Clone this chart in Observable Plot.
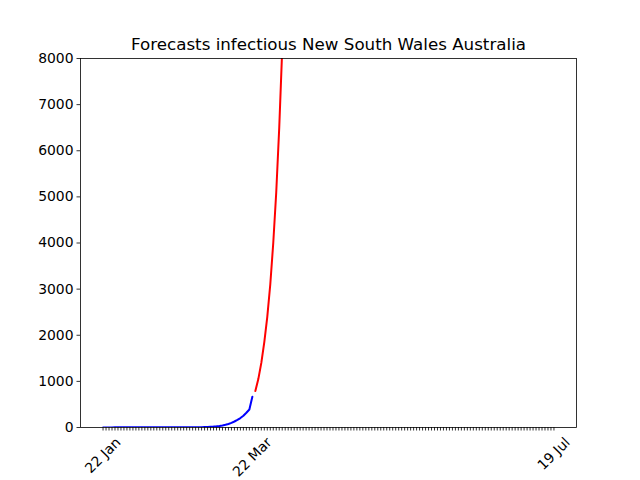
<!DOCTYPE html>
<html><head><meta charset="utf-8">
<script src="https://cdn.jsdelivr.net/npm/d3@7"></script>
<script src="https://cdn.jsdelivr.net/npm/@observablehq/plot@0.6"></script>
<style>body{margin:0;background:#fff}</style>
</head><body><div id="chart"></div>
<script>
const title = "Forecasts infectious New South Wales Australia";
const observedDay = [0,1,2,3,4,5,6,7,8,9,10,11,12,13,14,15,16,17,18,19,20,21,22,23,24,25,26,27,28,29,30,31,32,33,34,35,36,37,38,39,40,41,42,43,44,45,46,47,48,49,50];
const observedValue = [0,0,0,1,3,4,4,4,4,4,4,4,4,4,4,4,4,4,4,4,4,4,4,4,4,4,4,4,4,4,4,4,5,6,9,13,16,20,26,34,45,58,76,100,130,165,205,255,320,390,665];
const forecastDay = [51,52,53,54,55,56,57,58,59,60,61];
const forecastValue = [790,1050,1400,1850,2400,3100,4000,5100,6500,8200,10300];
const xTickDays = [0, 50, 151];
const xTickLabels = ["22 Jan", "22 Mar", "19 Jul"];
const yTicks = [0,1000,2000,3000,4000,5000,6000,7000,8000];
const lastDay = 151;

const observed = observedDay.map((d, i) => ({day: d, value: observedValue[i]}));
const forecast = forecastDay.map((d, i) => ({day: d, value: forecastValue[i]}));

const FONT = "DejaVu Sans";
const FS = 13.9;
const ctx = document.createElement("canvas").getContext("2d");
ctx.font = `${FS}px '${FONT}'`;
const lineH = 16;
const pad = (xTickDays[2] - xTickDays[0]) * 0.05;

const labelMarks = xTickDays.map((d, i) => {
  const w = ctx.measureText(xTickLabels[i]).width;
  return Plot.text([{day: d, label: xTickLabels[i]}], {
    x: "day", frameAnchor: "bottom", text: "label", rotate: -45,
    textAnchor: "end", lineAnchor: "middle", fontSize: FS, fill: "black",
    dx: 0.3535 * w, dy: 7 + 0.3535 * lineH
  });
});

const chart = Plot.plot({
  width: 640, height: 480,
  marginLeft: 80, marginRight: 64, marginTop: 58, marginBottom: 53,
  style: {fontFamily: FONT, fontSize: FS + "px", color: "black", background: "white"},
  x: {domain: [xTickDays[0] - pad, lastDay + pad]},
  y: {domain: [0, 8000]},
  marks: [
    Plot.axisY({ticks: yTicks, tickSize: 3.5, tickPadding: 3.5, label: null, tickFormat: d => String(d), fontSize: FS, strokeWidth: 0.8}),
    Plot.axisX({ticks: d3.range(0, lastDay + 1), tickSize: 3.5, tickFormat: () => "", label: null, strokeWidth: 0.8}),
    Plot.line(observed, {x: "day", y: "value", stroke: "#0000ff", strokeWidth: 2, clip: true}),
    Plot.line(forecast, {x: "day", y: "value", stroke: "#ff0000", strokeWidth: 2, clip: true}),
    Plot.frame({stroke: "black", strokeWidth: 0.8}),
    ...labelMarks,
    Plot.text([title], {frameAnchor: "top", dy: -8.3, lineAnchor: "bottom", fontSize: 16.7, fill: "black"})
  ]
});
document.getElementById("chart").appendChild(chart);
</script>
</body></html>
